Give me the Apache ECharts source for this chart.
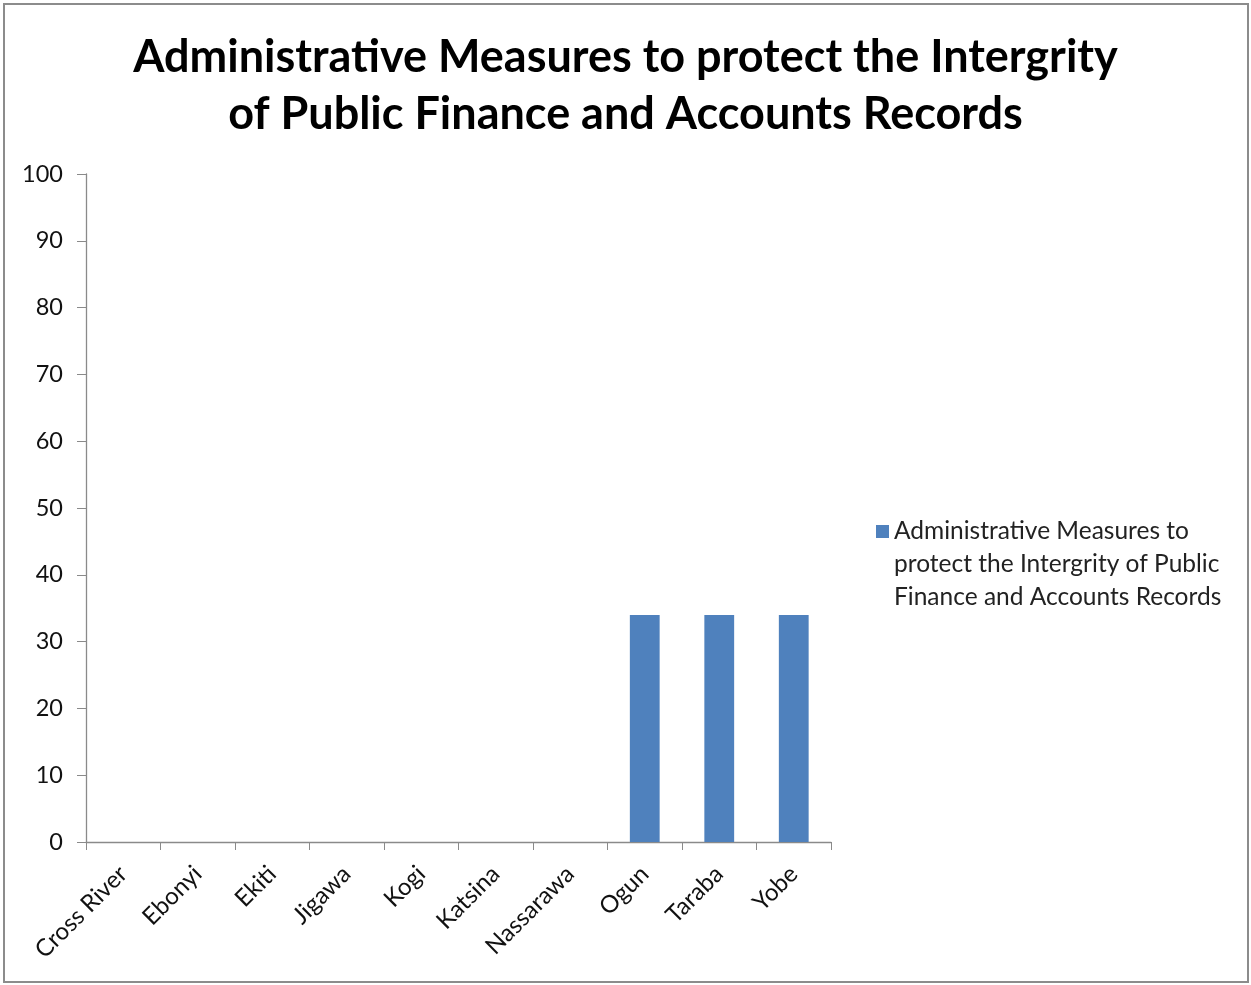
<!DOCTYPE html>
<html>
<head>
<meta charset="utf-8">
<script src="https://cdn.jsdelivr.net/npm/echarts@6/dist/echarts.min.js"></script>
<style>
  html, body { margin: 0; padding: 0; background: #fff; }
  #frame { position: absolute; left: 3px; top: 3px; width: 1242px; height: 976px; border: 2px solid #8c8c8c; }
  #chart { position: absolute; left: 0; top: 0; width: 1251px; height: 985px; }
</style>
</head>
<body>
<div id="frame"></div>
<div id="chart"></div>
<script>
const categories = ['Cross River', 'Ebonyi', 'Ekiti', 'Jigawa', 'Kogi', 'Katsina', 'Nassarawa', 'Ogun', 'Taraba', 'Yobe'];
const seriesName = 'Administrative Measures to protect the Intergrity of Public Finance and Accounts Records';
const values = [0, 0, 0, 0, 0, 0, 0, 34, 34, 34];
const titleText = 'Administrative Measures to protect the Intergrity\nof Public Finance and Accounts Records';
const legendLines = ['Administrative Measures to', 'protect the Intergrity of Public', 'Finance and Accounts Records'];

const FONT = 'Lato';
const chart = echarts.init(document.getElementById('chart'), null, { renderer: 'canvas' });
chart.setOption({
  animation: false,
  backgroundColor: 'transparent',
  title: {
    text: titleText,
    left: 'center',
    top: 24,
    textStyle: { fontFamily: FONT, fontWeight: 'bold', fontSize: 45, lineHeight: 57, color: '#000' }
  },
  legend: {
    left: 876,
    top: 449,
    padding: 0,
    itemWidth: 13,
    itemHeight: 13,
    itemGap: 0,
    icon: 'rect',
    // two blank lines on top keep the swatch level with the first text line
    formatter: () => '\n\n' + legendLines.join('\n'),
    textStyle: { fontFamily: FONT, fontSize: 24.5, lineHeight: 33, color: '#222' }
  },
  grid: { left: 86, right: 420, top: 174, bottom: 143 },
  xAxis: {
    type: 'category',
    data: categories,
    axisLine: { lineStyle: { color: '#8a8a8a', width: 1.3 } },
    axisTick: { show: true, length: 8, lineStyle: { color: '#8a8a8a' } },
    axisLabel: { rotate: 45, interval: 0, margin: 28, fontFamily: FONT, fontSize: 24, color: '#111' }
  },
  yAxis: {
    type: 'value',
    min: 0, max: 100, interval: 10,
    axisLine: { show: true, lineStyle: { color: '#8a8a8a', width: 1.3 } },
    axisTick: { show: true, length: 9, lineStyle: { color: '#8a8a8a' } },
    splitLine: { show: false },
    axisLabel: { margin: 23, fontFamily: FONT, fontSize: 23.5, color: '#111' }
  },
  series: [{
    name: seriesName,
    type: 'bar',
    data: values,
    barWidth: '40%',
    itemStyle: { color: '#4F81BD' }
  }]
});
</script>
</body>
</html>
